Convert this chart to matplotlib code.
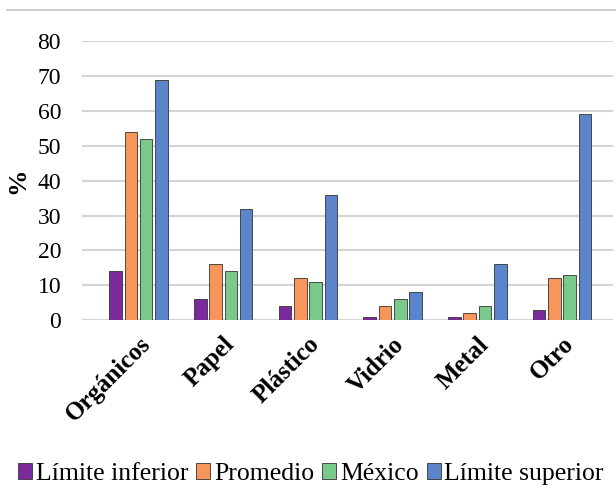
import numpy as np
import matplotlib
matplotlib.use("Agg")
import matplotlib.pyplot as plt
from matplotlib.lines import Line2D

plt.rcParams['font.family'] = ['Liberation Serif', 'DejaVu Serif']

categorias = ["Orgánicos", "Papel", "Plástico", "Vidrio", "Metal", "Otro"]
limite_inferior = [14, 6, 4, 1, 1, 3]
promedio = [54, 16, 12, 4, 2, 12]
mexico = [52, 14, 11, 6, 4, 13]
limite_superior = [69, 32, 36, 8, 16, 59]

series = [
    ("Límite inferior", limite_inferior, "#7B2A9C"),
    ("Promedio", promedio, "#F7955A"),
    ("México", mexico, "#79C98B"),
    ("Límite superior", limite_superior, "#5B84CB"),
]

fig = plt.figure(figsize=(6.16, 4.91), dpi=100)
ax = fig.add_axes([0.133, 0.348, 0.862, 0.568])

x = np.arange(len(categorias))
w = 0.148
stride = 0.18
for i, (name, vals, col) in enumerate(series):
    off = (i - 1.5) * stride
    ax.bar(x + off, vals, w, color=col, edgecolor="#333333", linewidth=0.6,
           label=name, zorder=3)

ax.set_xlim(-0.667, 5.6)
ax.set_ylim(0, 80)
ax.set_yticks(range(0, 81, 10))
ax.yaxis.grid(True, color="#d4d4d4", linewidth=1.5, zorder=0)
for s in ax.spines.values():
    s.set_visible(False)
ax.tick_params(axis="y", length=0, labelsize=17, pad=15)
ax.tick_params(axis="x", length=0, pad=9)
ax.set_xticks(x)
ax.set_xticklabels(categorias, rotation=45, ha="right", rotation_mode="anchor",
                   fontweight="bold", fontsize=18)
ax.set_ylabel("%", fontsize=19, fontweight="bold")
ax.yaxis.set_label_coords(-0.1, 0.5)

fig.legend(loc="lower center", bbox_to_anchor=(0.505, -0.035), ncol=4, frameon=False,
           fontsize=18.5, handlelength=0.55, handleheight=0.55, handletextpad=0.15,
           columnspacing=0.3)

fig.add_artist(Line2D([0.012, 1.0], [0.98, 0.98], color="#cccccc", linewidth=1.5,
                      transform=fig.transFigure))

fig.savefig("out.png", dpi=100)
